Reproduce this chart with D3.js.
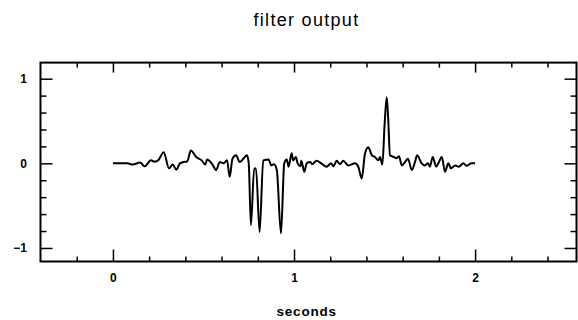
<!DOCTYPE html>
<html>
<head>
<meta charset="utf-8">
<script src="https://cdn.jsdelivr.net/npm/d3@7"></script>
<style>
  body { margin: 0; background: #fff; }
  svg { display: block; }
  .tick text { font-family: 'Liberation Sans', Arial, sans-serif; font-weight: bold; font-size: 12px; fill: #000; }
  .tick line { stroke: #000; stroke-width: 1.5; }
</style>
</head>
<body>
<svg id="chart" width="578" height="320"></svg>
<script>
// filter output (seconds, amplitude)
const timeSec = [
  0.00, 0.08, 0.11, 0.15, 0.175, 0.21, 0.23, 0.25, 0.28, 0.31,
  0.33, 0.35, 0.37, 0.39, 0.41, 0.43, 0.46, 0.49, 0.51, 0.52,
  0.55, 0.57, 0.59, 0.61, 0.63, 0.645, 0.66, 0.68, 0.70, 0.72,
  0.74, 0.75, 0.762, 0.78, 0.79, 0.81, 0.83, 0.86, 0.875, 0.89,
  0.905, 0.928, 0.946, 0.96, 0.97, 0.987, 0.995, 1.01, 1.02, 1.035,
  1.04, 1.057, 1.07, 1.09, 1.10, 1.125, 1.15, 1.18, 1.205, 1.217,
  1.236, 1.254, 1.272, 1.30, 1.337, 1.355, 1.374, 1.392, 1.41, 1.43,
  1.447, 1.466, 1.475, 1.488, 1.50, 1.512, 1.52, 1.53, 1.55, 1.567,
  1.58, 1.595, 1.613, 1.63, 1.65, 1.668, 1.68, 1.705, 1.72, 1.74,
  1.75, 1.766, 1.785, 1.797, 1.816, 1.834, 1.852, 1.867, 1.89, 1.91,
  1.935, 1.954, 1.98, 2.00
]
const output = [
  0, 0, -0.015, 0.01, -0.035, 0.035, 0.02, 0.035, 0.13, -0.06,
  -0.015, -0.075, 0, 0.015, 0.02, 0.15, 0.075, 0.035, -0.015, 0.045,
  -0.015, -0.08, 0.015, 0, 0.035, -0.16, 0.055, 0.095, 0.015, 0.055,
  0.095, 0, -0.73, -0.06, -0.06, -0.81, 0.035, 0.045, -0.025, -0.01,
  -0.08, -0.83, 0, 0.045, -0.04, 0.12, 0.035, 0.075, 0, -0.035,
  0.03, -0.1, 0, 0.015, -0.01, 0.03, 0, -0.04, 0, -0.035,
  0.03, -0.01, 0.03, -0.025, 0, -0.04, -0.18, 0.115, 0.19, 0.095,
  0.075, 0.035, 0.075, -0.015, 0.45, 0.78, 0.53, 0.095, 0.075, 0.06,
  0.085, -0.025, 0.015, 0.055, -0.08, 0.015, 0.095, 0, -0.025, 0,
  -0.04, 0.075, -0.04, 0, 0.075, -0.1, 0, -0.06, -0.025, -0.04,
  0, -0.03, 0, 0
]

const xMajor = [0, 1, 2]
const xMinor = [-0.2, 0.2, 0.4, 0.6, 0.8, 1.2, 1.4, 1.6, 1.8, 2.2, 2.4]
const yMajor = [-1, 0, 1]
const yMinor = [-0.8, -0.6, -0.4, -0.2, 0.2, 0.4, 0.6, 0.8]

const titleText = 'filter output'
const xLabel = 'seconds'

const svg = d3.select('#chart')
const plotL = 40.5, plotR = 576.5, plotT = 62.6, plotB = 261.5

const x = d3.scaleLinear().domain([-0.4, 2.56]).range([plotL, plotR])
const y = d3.scaleLinear().domain([-1.16, 1.19]).range([plotB, plotT])

const fmt = d3.format('d')
const noDomain = g => g.select('.domain').remove()

// bottom and top axes, ticks pointing inward
svg.append('g')
  .attr('transform', `translate(0,${plotB})`)
  .call(d3.axisBottom(x).tickValues(xMinor).tickSize(-5).tickFormat(''))
  .call(noDomain)
svg.append('g')
  .attr('transform', `translate(0,${plotB})`)
  .call(d3.axisBottom(x).tickValues(xMajor).tickSize(-12).tickPadding(11.7).tickFormat(fmt))
  .call(noDomain)
svg.append('g')
  .attr('transform', `translate(0,${plotT})`)
  .call(d3.axisTop(x).tickValues(xMinor).tickSize(-5).tickFormat(''))
  .call(noDomain)
svg.append('g')
  .attr('transform', `translate(0,${plotT})`)
  .call(d3.axisTop(x).tickValues(xMajor).tickSize(-10).tickFormat(''))
  .call(noDomain)

// left and right axes
svg.append('g')
  .attr('transform', `translate(${plotL},0)`)
  .call(d3.axisLeft(y).tickValues(yMinor).tickSize(-6).tickFormat(''))
  .call(noDomain)
svg.append('g')
  .attr('transform', `translate(${plotL},0)`)
  .call(d3.axisLeft(y).tickValues(yMajor).tickSize(-12).tickPadding(13.5).tickFormat(fmt))
  .call(noDomain)
svg.append('g')
  .attr('transform', `translate(${plotR},0)`)
  .call(d3.axisRight(y).tickValues(yMinor).tickSize(-6).tickFormat(''))
  .call(noDomain)
svg.append('g')
  .attr('transform', `translate(${plotR},0)`)
  .call(d3.axisRight(y).tickValues(yMajor).tickSize(-12).tickFormat(''))
  .call(noDomain)

svg.append('rect')
  .attr('x', plotL)
  .attr('y', plotT)
  .attr('width', plotR - plotL)
  .attr('height', plotB - plotT)
  .attr('fill', 'none')
  .attr('stroke', '#000')
  .attr('stroke-width', 2)

const data = timeSec.map((t, i) => ({ t: t, v: output[i] }))

const line = d3.line()
  .x(d => x(d.t))
  .y(d => y(d.v))
  .curve(d3.curveMonotoneX)

svg.append('path')
  .datum(data)
  .attr('d', line)
  .attr('fill', 'none')
  .attr('stroke', '#000')
  .attr('stroke-width', 2)
  .attr('stroke-linejoin', 'round')

svg.append('text')
  .attr('x', 306.5)
  .attr('y', 26)
  .attr('text-anchor', 'middle')
  .style('font-family', "'Liberation Sans', Arial, sans-serif")
  .style('font-size', '18px')
  .style('letter-spacing', '1.3px')
  .text(titleText)

svg.append('text')
  .attr('x', 306.7)
  .attr('y', 316)
  .attr('text-anchor', 'middle')
  .style('font-family', "'Liberation Sans', Arial, sans-serif")
  .style('font-weight', 'bold')
  .style('font-size', '13.5px')
  .style('letter-spacing', '0.8px')
  .text(xLabel)
</script>
</body>
</html>
